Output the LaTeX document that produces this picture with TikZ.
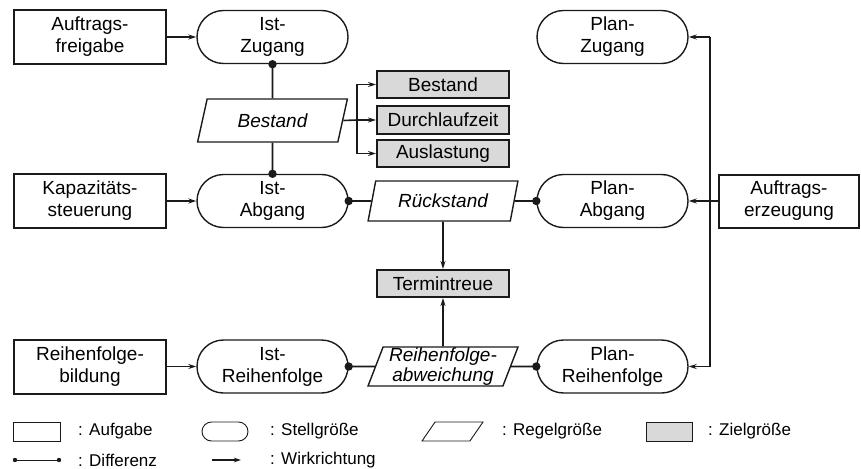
\documentclass[tikz,border=0pt]{standalone}
\usepackage{fontspec}
\setmainfont{Liberation Sans}
\usetikzlibrary{shapes.misc,shapes.geometric,arrows.meta}
\definecolor{zielgrau}{HTML}{D9D9D9}
\definecolor{linie}{HTML}{1A1A1A}
\tikzset{
  txt/.style={font=\fontsize{19}{22}\selectfont, align=center, text=black, inner sep=0pt},
  aufgabe/.style={txt, draw=linie, line width=2pt, rectangle, minimum width=152pt, minimum height=54pt},
  stell/.style={txt, draw=linie, line width=1.4pt, rounded rectangle, minimum width=151pt, minimum height=53pt},
  regel/.style={txt, draw=linie, line width=1.4pt, trapezium, trapezium left angle=70, trapezium right angle=110, trapezium stretches=true, minimum width=150pt, minimum height=42pt, font=\fontsize{19}{19.5}\selectfont\itshape},
  ziel/.style={txt, draw=linie, line width=2pt, fill=zielgrau, rectangle, minimum width=132pt, minimum height=27pt},
  conn/.style={draw=linie, line width=1.6pt},
  arr/.style={conn, -{Stealth[length=8pt,width=5pt]}},
  dotc/.style={fill=linie},
  legtxt/.style={font=\fontsize{17}{18}\selectfont, anchor=west, inner sep=0pt, text=black},
  legshape/.style={draw=linie, line width=0.9pt, inner sep=0pt},
}
\begin{document}
\begin{tikzpicture}[x=1pt,y=-1pt]
\useasboundingbox (0,0) rectangle (861,468);
% row 1
\node[aufgabe] (af) at (90,37) {Auftrags-\\freigabe};
\node[stell] (iz) at (272.5,37) {Ist-\\Zugang};
\node[stell] (pz) at (612.5,37) {Plan-\\Zugang};
% Bestand
\node[regel, minimum height=43pt] (best) at (272.5,120.5) {Bestand};
\node[ziel] (zb1) at (443,84.5) {Bestand};
\node[ziel] (zb2) at (443,120) {Durchlaufzeit};
\node[ziel] (zb3) at (443,153.5) {Auslastung};
% row 2
\node[aufgabe] (ks) at (90,201) {Kapazitäts-\\steuerung};
\node[stell] (ia) at (272.5,201) {Ist-\\Abgang};
\node[regel, minimum height=40pt] (rs) at (443,201) {Rückstand};
\node[stell] (pa) at (612.5,201) {Plan-\\Abgang};
\node[aufgabe, minimum width=140pt, minimum height=53pt] (ae) at (789,201) {Auftrags-\\erzeugung};
% Termintreue
\node[ziel] (tt) at (443,283.5) {Termintreue};
% row 3
\node[aufgabe] (rb) at (90,366.5) {Reihenfolge-\\bildung};
\node[stell] (ir) at (272.5,366.5) {Ist-\\Reihenfolge};
\node[regel, minimum height=39pt] (rfa) at (443,366.5) {Reihenfolge-\\abweichung};
\node[stell] (pr) at (612.5,366.5) {Plan-\\Reihenfolge};
% Wirkrichtung arrows
\draw[arr] (af) -- (iz);
\draw[arr] (ks) -- (ia);
\draw[arr] (rb) -- (ir);
% Bestand bracket
\coordinate (bk) at (357,120);
\draw[conn] (best.east) -- (bk);
\draw[arr] (bk) |- (zb1.west);
\draw[arr] (bk) -- (zb2.west);
\draw[arr] (bk) |- (zb3.west);
% Differenz lines
\draw[conn] (iz.south) -- (best.north);
\draw[conn] (best.south) -- (ia.north);
\fill[dotc] (iz.south) circle (4.2);
\fill[dotc] (ia.north) circle (4.2);
\draw[conn] (ia.east) -- (rs.west);
\fill[dotc] (ia.east) circle (4.2);
\draw[conn] (rs.east) -- (pa.west);
\fill[dotc] (pa.west) circle (4.2);
\draw[conn] (ir.east) -- (rfa.west);
\fill[dotc] (ir.east) circle (4.2);
\draw[conn] (rfa.east) -- (pr.west);
\fill[dotc] (pr.west) circle (4.2);
% to Termintreue
\draw[arr] (rs.south) -- (tt.north);
\draw[arr] (rfa.north) -- (tt.south);
% Auftragserzeugung distribution
\coordinate (jt) at (710,37);
\coordinate (jb) at (710,366.5);
\coordinate (jm) at (710,201);
\draw[conn] (jt) -- (jb);
\draw[conn] (ae.west) -- (jm);
\draw[arr] (jt) -- (pz.east);
\draw[arr] (jm) -- (pa.east);
\draw[arr] (jb) -- (pr.east);
% legend
\node[legshape, rectangle, minimum width=47pt, minimum height=19pt] (l1) at (36.5,431.5) {};
\node[legtxt] (l1t) at (78,431.5) {: Aufgabe};
\node[legshape, rounded rectangle, minimum width=46pt, minimum height=19pt] (l2) at (225,431.5) {};
\node[legtxt] (l2t) at (270,431.5) {: Stellgröße};
\node[legshape, trapezium, trapezium left angle=70, trapezium right angle=110, trapezium stretches=true, minimum width=61pt, minimum height=19pt] (l3) at (452.5,431.5) {\phantom{X}};
\node[legtxt] (l3t) at (502,431.5) {: Regelgröße};
\node[legshape, rectangle, fill=zielgrau, minimum width=46pt, minimum height=19pt] (l4) at (669,431.5) {};
\node[legtxt] (l4t) at (708,431.5) {: Zielgröße};
\coordinate (d1) at (15,460);
\coordinate (d2) at (59,460);
\draw[draw=linie, line width=1pt] (d1) -- (d2);
\fill[dotc] (d1) circle (2.2);
\fill[dotc] (d2) circle (2.2);
\node[legtxt] (l5t) at (78,460) {: Differenz};
\coordinate (w1) at (212,460);
\coordinate (w2) at (241,460);
\draw[draw=linie, line width=1.2pt, -{Stealth[length=7pt,width=4.5pt]}] (w1) -- (w2);
\node[legtxt] (l6t) at (270,460) {: Wirkrichtung};
\end{tikzpicture}
\end{document}
